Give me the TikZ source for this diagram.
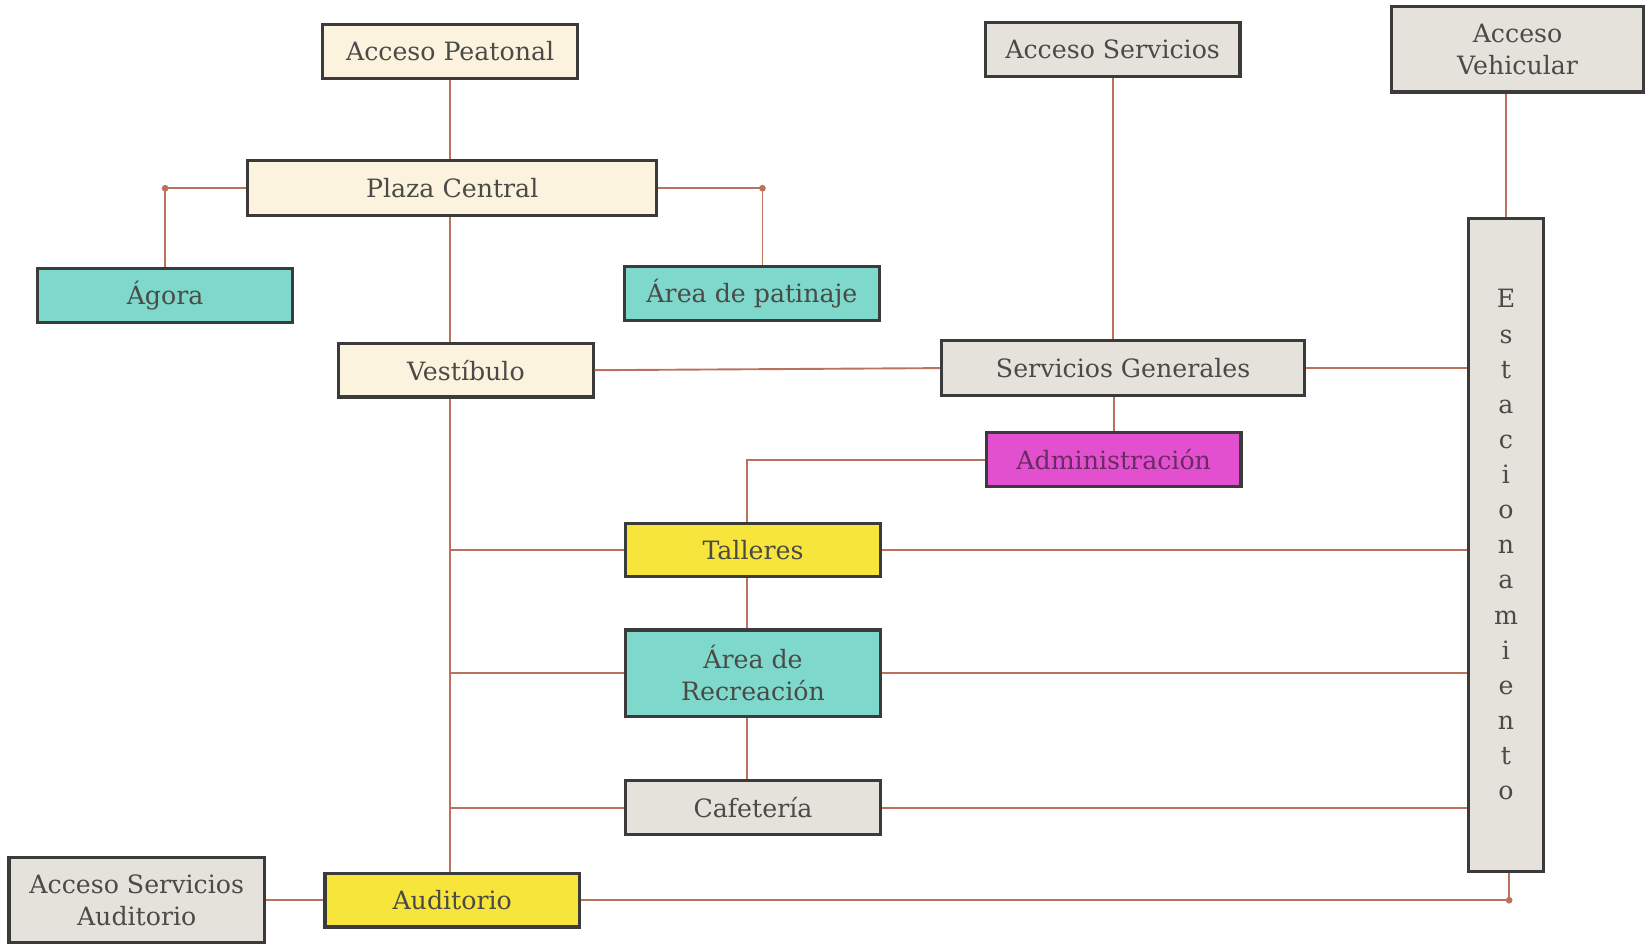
\documentclass[tikz,border=0pt]{standalone}
\usepackage{fontspec}
\setmainfont{DejaVu Serif}
\definecolor{crema}{HTML}{FCF3DE}
\definecolor{turq}{HTML}{7ED8CC}
\definecolor{gris}{HTML}{E4E2DB}
\definecolor{magen}{HTML}{E350CF}
\definecolor{amar}{HTML}{F8E53C}
\definecolor{linea}{HTML}{BC715C}
\definecolor{borde}{HTML}{3B3B3B}
\definecolor{texto}{HTML}{4A4A46}
\definecolor{textoad}{HTML}{6A2A62}

\begin{document}
\begin{tikzpicture}[x=0.5pt,y=-0.5pt,
  b/.style={rectangle,draw=borde,line width=1.5pt,minimum width=121pt,minimum height=25.5pt,inner sep=2pt,font=\fontsize{12}{15}\selectfont,text=texto,align=center},
  cr/.style={fill=crema},
  tq/.style={fill=turq},
  gr/.style={fill=gris},
  mg/.style={fill=magen,text=textoad},
  am/.style={fill=amar},
  dos/.style={minimum height=40.5pt},
  l/.style={draw=linea,line width=0.9pt},
  d/.style={fill=linea}]

\useasboundingbox (0,0) rectangle (1568,901);

% accesos
\node[b,cr] (peat) at (428,49) {Acceso Peatonal};
\node[b,gr] (aserv) at (1058,47) {Acceso Servicios};
\node[b,gr,dos,minimum width=120pt] (aveh) at (1443,47) {Acceso\\Vehicular};

% plaza y ramas
\node[b,cr,minimum width=194.5pt,minimum height=26pt] (plaza) at (430,179) {Plaza Central};
\node[b,tq] (agora) at (157,281) {Ágora};
\node[b,tq] (pat) at (715,279) {Área de patinaje};
\node[b,cr] (vest) at (443,352) {Vestíbulo};

% servicios
\node[b,gr,minimum width=172.5pt,minimum height=26pt] (sg) at (1068,350) {Servicios Generales};
\node[b,mg] (adm) at (1059,437) {Administración};
\node[b,gr,minimum width=35.5pt,minimum height=310.5pt,font=\fontsize{12}{16.7}\selectfont] (est) at (1432,518)
  {E\\s\\t\\a\\c\\i\\o\\n\\a\\m\\i\\e\\n\\t\\o};

% zona central
\node[b,am] (tall) at (716,523) {Talleres};
\node[b,tq,minimum height=41pt] (recr) at (716,640) {Área de\\Recreación};
\node[b,gr] (caf) at (716,768) {Cafetería};
\node[b,am] (aud) at (430,856) {Auditorio};
\node[b,gr,dos,minimum width=121.5pt] (asa) at (130,856) {Acceso Servicios\\Auditorio};

% eje peatonal
\draw[l] (peat.south) -- (peat.south |- plaza.north);
\draw[l] (plaza.south -| peat.south) -- (vest.north -| peat.south);
\draw[l] (vest.south -| peat.south) -- (aud.north -| peat.south);
\draw[l] (peat.south |- tall.west) -- (tall.west);
\draw[l] (peat.south |- recr.west) -- (recr.west);
\draw[l] (peat.south |- caf.west) -- (caf.west);

% plaza a agora y patinaje
\draw[l] (plaza.west) -| (agora.north);
\draw[l] (plaza.east) -| ([xshift=5pt]pat.north);
\fill[d] (agora.north |- plaza.west) circle (1.6pt);
\fill[d] ([xshift=5pt]pat.north |- plaza.east) circle (1.6pt);

% servicios
\draw[l] (vest.east) -- (sg.west);
\draw[l] (aserv.south) -- (aserv.south |- sg.north);
\draw[l] (adm.north |- sg.south) -- (adm.north);
\draw[l] (sg.east) -- (sg.east -| est.west);
\draw[l] (aveh.south -| est.north) -- (est.north);

% administracion a la zona central
\draw[l] (adm.west) -| ([xshift=-3pt]tall.north);
\draw[l] ([xshift=-3pt]tall.south) -- ([xshift=-3pt]recr.north);
\draw[l] ([xshift=-3pt]recr.south) -- ([xshift=-3pt]caf.north);

% estacionamiento
\draw[l] (tall.east) -- (tall.east -| est.west);
\draw[l] (recr.east) -- (recr.east -| est.west);
\draw[l] (caf.east) -- (caf.east -| est.west);
\draw[l] (aud.east) -| ([xshift=1.5pt]est.south);
\fill[d] ([xshift=1.5pt]est.south |- aud.east) circle (1.6pt);

% auditorio
\draw[l] (asa.east) -- (aud.west);
\end{tikzpicture}
\end{document}
